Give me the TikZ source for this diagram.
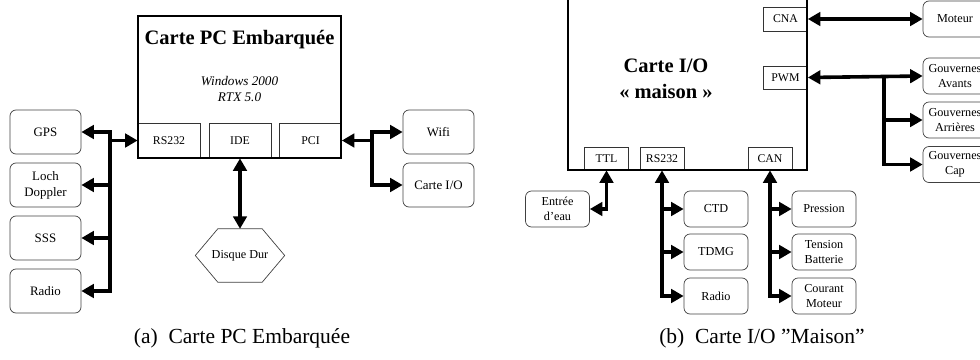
\documentclass[tikz,border=0pt]{standalone}
\usepackage{fontspec}
\setmainfont{Liberation Serif}
\usetikzlibrary{arrows.meta}

\begin{document}
\begin{tikzpicture}[x=1pt,y=-1pt,
    bus/.style={line width=3.6pt,>={Triangle[length=12.5pt,width=13.5pt]}},
    blocA/.style={draw,black!75,line width=0.7pt,rounded corners=6pt,text=black,align=center,
      minimum width=71pt,minimum height=44pt,inner sep=0pt,font=\fontsize{12.9}{16}\selectfont},
    blocB/.style={draw,black!75,line width=0.7pt,rounded corners=6pt,text=black,align=center,
      minimum width=64pt,minimum height=36pt,inner sep=0pt,font=\fontsize{12.2}{15}\selectfont},
    portA/.style={draw,black!80,line width=0.7pt,text=black,minimum width=62pt,minimum height=35pt,
      inner sep=0pt,font=\fontsize{11.8}{13}\selectfont},
    portB/.style={draw,black!80,line width=0.7pt,text=black,minimum width=44pt,minimum height=23pt,
      inner sep=0pt,font=\fontsize{11.8}{13}\selectfont},
    titre/.style={align=center,font=\bfseries\fontsize{20.5}{26}\selectfont},
    legende/.style={font=\fontsize{21.5}{24}\selectfont}]
    \useasboundingbox (0,0) rectangle (980,359);

    % (a) carte PC
    \node[portA] (rsA) at (169,140.5) {RS232};
    \node[portA] (ide) at (240,140.5) {IDE};
    \node[portA] (pci) at (310.5,140.5) {PCI};
    \draw[line width=1.4pt] (138,16) rectangle (341,158);
    \node[titre] (pc) at (239.5,40) {Carte PC Embarquée};
    \node[align=center,font=\itshape\fontsize{13.2}{16}\selectfont] (os) at (239.5,89) {Windows 2000\\RTX 5.0};

    \node[blocA] (gps) at (45.5,132) {GPS};
    \node[blocA] (loch) at (45.5,185) {Loch\\Doppler};
    \node[blocA] (sss) at (45.5,238) {SSS};
    \node[blocA] (radioA) at (45.5,291) {Radio};
    \node[blocA] (wifi) at (438.5,132) {Wifi};
    \node[blocA] (cio) at (438.5,185) {Carte I/O};

    \node[minimum width=89pt,minimum height=53pt,inner sep=0pt,font=\fontsize{12.2}{15}\selectfont] (disk) at (240,255.5) {Disque Dur};
    \draw[black!75,line width=0.7pt] ([xshift=22.5pt]disk.north west) -- ([xshift=-22.5pt]disk.north east) -- (disk.east)
      -- ([xshift=-22.5pt]disk.south east) -- ([xshift=22.5pt]disk.south west) -- (disk.west) -- cycle;

    \coordinate (busA) at (110,0);
    \coordinate (busB) at (372,0);
    \draw[bus,<->] (gps.east) -| (busA |- loch.east) |- (radioA.east);
    \foreach \n in {loch,sss}
      \draw[bus,->] (busA |- \n.east) -- (\n.east);
    \draw[bus,->] (busA |- rsA.west) -- (rsA.west);
    \draw[bus,<->] (wifi.west) -| (busB |- cio.west) -- (cio.west);
    \draw[bus,<-] (pci.east) -- (busB |- pci.east);
    \draw[bus,<->] (ide.south) -- (disk.north);

    % (b) carte I/O
    \node[portB,minimum height=24pt] (cna) at (785.5,19) {CNA};
    \node[portB] (pwm) at (785.5,77.5) {PWM};
    \node[portB] (ttl) at (606.5,158.5) {TTL};
    \node[portB] (rsB) at (662,158.5) {RS232};
    \node[portB] (can) at (770,158.5) {CAN};
    \draw[line width=1.4pt] (568,-10) rectangle (807,170);
    \node[titre] (io) at (666,79) {Carte I/O\\«~maison~»};

    \node[blocB] (moteur) at (955,19) {Moteur};
    \node[blocB] (gav) at (955,76) {Gouvernes\\Avants};
    \node[blocB] (gar) at (955,120) {Gouvernes\\Arrières};
    \node[blocB] (gcap) at (955,164.5) {Gouvernes\\Cap};
    \node[blocB] (eau) at (557.5,209) {Entrée\\d'eau};
    \node[blocB] (ctd) at (716,209) {CTD};
    \node[blocB] (tdmg) at (716,252) {TDMG};
    \node[blocB] (radioB) at (716,296) {Radio};
    \node[blocB] (pression) at (824,209) {Pression};
    \node[blocB] (tension) at (824,252) {Tension\\Batterie};
    \node[blocB] (courant) at (824,296) {Courant\\Moteur};

    \coordinate (busC) at (884,0);
    \draw[bus,<->] (cna.east) -- (moteur.west);
    \draw[bus,<->] (pwm.east) -- (gav.west);
    \draw[bus,->] (busC |- gav.west) |- (gcap.west);
    \draw[bus,->] (busC |- gar.west) -- (gar.west);
    \draw[bus,<->] (ttl.south) |- (eau.east);
    \draw[bus,<->] (rsB.south) |- (radioB.west);
    \foreach \n in {ctd,tdmg}
      \draw[bus,->] (rsB.south |- \n.west) -- (\n.west);
    \draw[bus,<->] (can.south) |- (courant.west);
    \foreach \n in {pression,tension}
      \draw[bus,->] (can.south |- \n.west) -- (\n.west);

    \node[legende] (legA) at (242,338) {(a)\hspace{0.5em}Carte PC Embarquée};
    \node[legende] (legB) at (762,338) {(b)\hspace{0.5em}Carte I/O ''Maison''};
\end{tikzpicture}
\end{document}
